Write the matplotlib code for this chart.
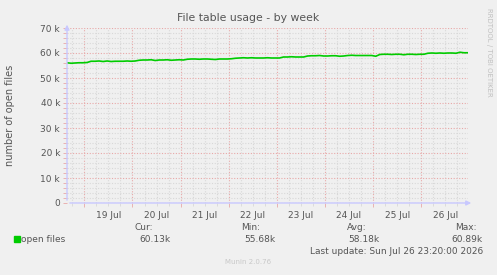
import numpy as np
import pandas as pd
import matplotlib
matplotlib.use("Agg")
import matplotlib.pyplot as plt
import matplotlib.dates as mdates
from matplotlib.ticker import MultipleLocator, FuncFormatter

# datos: ficheros abiertos (miles), un punto cada 2 horas
open_files_k = [
    56.1, 55.9, 56.0, 56.1, 56.1, 56.2,
    56.7, 56.7, 56.8, 56.6, 56.8, 56.6, 56.7, 56.7, 56.7, 56.8, 56.7, 56.8,
    57.1, 57.2, 57.2, 57.3, 57.0, 57.2, 57.2, 57.3, 57.1, 57.2, 57.3, 57.2,
    57.5, 57.6, 57.6, 57.5, 57.6, 57.6, 57.5, 57.4, 57.6, 57.6, 57.6, 57.7,
    57.9, 58.0, 58.1, 58.0, 58.1, 58.0, 58.0, 58.0, 58.1, 58.0, 58.0, 58.0,
    58.4, 58.4, 58.5, 58.4, 58.4, 58.4,
    58.8, 58.9, 58.9, 59.0, 58.8, 58.8, 58.9,
    58.9, 58.7, 58.8, 59.0, 59.1, 59.0, 59.0, 59.0, 59.0, 59.0, 58.7,
    59.4, 59.5, 59.5, 59.4, 59.5, 59.5, 59.3, 59.5, 59.5, 59.4, 59.5, 59.5,
    59.9, 60.0, 59.9, 60.0, 59.9, 60.0, 60.0, 59.9, 60.3, 60.1, 60.1,
]
tiempos = pd.date_range("2026-07-18 15:20", periods=len(open_files_k), freq="2h")
valores = np.array(open_files_k) * 1000

titulo = "File table usage - by week"
etiqueta_y = "number of open files"
serie = "open files"
cur, vmin, avg, vmax = "60.13k", "55.68k", "58.18k", "60.89k"
ultima = "Last update: Sun Jul 26 23:20:00 2026"

fondo = "#F0F0F0"
texto = "#555555"

fig = plt.figure(figsize=(4.97, 2.75), dpi=100)
fig.patch.set_facecolor(fondo)
ax = fig.add_axes([67 / 497, 1 - 203 / 275, 401 / 497, 175 / 275])
ax.set_facecolor(fondo)

ax.plot(tiempos, valores, color="#00CC00", lw=1.2, zorder=3)

ax.set_xlim(tiempos[0], tiempos[-1])
ax.set_ylim(0, 70000)

# ejes y rejilla
ax.yaxis.set_major_locator(MultipleLocator(10000))
ax.yaxis.set_minor_locator(MultipleLocator(2000))
ax.yaxis.set_major_formatter(FuncFormatter(lambda v, p: "0" if v == 0 else f"{int(v / 1000)} k"))
ax.xaxis.set_major_locator(mdates.DayLocator())
ax.xaxis.set_minor_locator(mdates.HourLocator(byhour=[6, 12, 18]))
ax.xaxis.set_major_formatter(FuncFormatter(lambda v, p: ""))
ax.xaxis.set_minor_formatter(FuncFormatter(
    lambda v, p: mdates.num2date(v).strftime("%d Jul") if mdates.num2date(v).hour == 12 else ""))

ax.grid(which="major", color="#E8A8A8", linestyle=(0, (1, 1.5)), lw=0.8)
ax.grid(which="minor", color="#D8D8D8", linestyle=(0, (1, 1.5)), lw=0.8)
ax.tick_params(which="both", colors="#E8A8A8", labelcolor=texto, labelsize=6.5, length=3, width=0.6)
ax.tick_params(axis="y", which="major", pad=2)
ax.tick_params(axis="x", which="minor", colors="#D8D8D8", labelcolor=texto, labelsize=6.5, length=2, pad=4)
ax.tick_params(axis="x", which="major", pad=4)

for lado in ["top", "right", "bottom", "left"]:
    ax.spines[lado].set_visible(False)
ax.annotate("", xy=(1.015, 0), xytext=(0, 0), xycoords="axes fraction",
            arrowprops=dict(arrowstyle="-|>", color="#C8C8FF", lw=1, mutation_scale=7))
ax.annotate("", xy=(0, 1.035), xytext=(0, 0), xycoords="axes fraction",
            arrowprops=dict(arrowstyle="-|>", color="#C8C8FF", lw=1, mutation_scale=7))

# textos
fig.text(248 / 497, 1 - 18 / 275, titulo, ha="center", va="center", fontsize=7.8, color=texto)
fig.text(10 / 497, 1 - 115 / 275, etiqueta_y, rotation=90, ha="center", va="center", fontsize=7, color=texto)
fig.text(489 / 497, 1 - 52 / 275, "RRDTOOL / TOBI OETIKER", rotation=270, ha="center", va="center",
         fontsize=5, color="#C0C0C0")

# leyenda
fig.patches.append(plt.Rectangle((14 / 497, 1 - 242 / 275), 6 / 497, 6 / 275,
                                 transform=fig.transFigure, color="#00CC00", figure=fig))
fig.text(21 / 497, 1 - 239 / 275, serie, ha="left", va="center", fontsize=6.5, color=texto)
columnas = [(153, 171, "Cur:", cur), (260, 275, "Min:", vmin), (367, 379, "Avg:", avg), (477, 483, "Max:", vmax)]
for xe, xv, nombre, valor in columnas:
    fig.text(xe / 497, 1 - 227 / 275, nombre, ha="right", va="center", fontsize=6.5, color=texto)
    fig.text(xv / 497, 1 - 239 / 275, valor, ha="right", va="center", fontsize=6.5, color=texto)
fig.text(483 / 497, 1 - 251 / 275, ultima, ha="right", va="center", fontsize=6.5, color=texto)
fig.text(248 / 497, 1 - 262 / 275, "Munin 2.0.76", ha="center", va="center", fontsize=5, color="#C8C8C8")

fig.savefig("out.png", dpi=100, facecolor=fondo)
